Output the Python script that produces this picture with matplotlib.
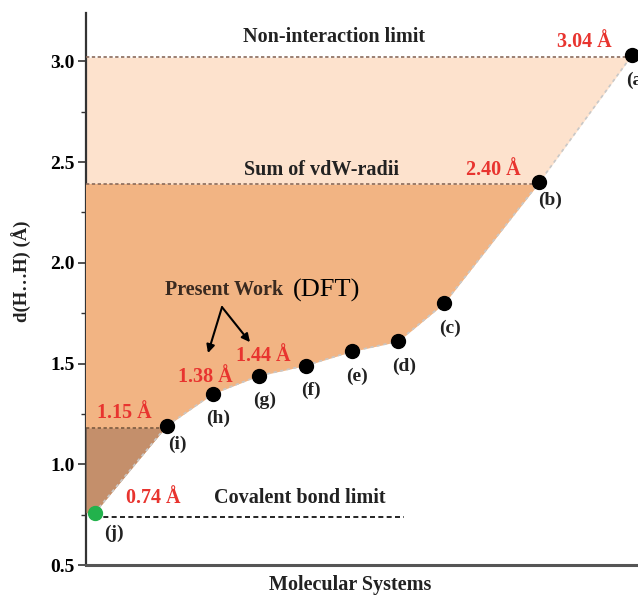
import matplotlib
matplotlib.use("Agg")
import matplotlib.pyplot as plt
from matplotlib.ticker import MultipleLocator

# ---- data ----
labels = ["(j)", "(i)", "(h)", "(g)", "(f)", "(e)", "(d)", "(c)", "(b)", "(a)"]
xpos = [0.0, 1.55, 2.55, 3.55, 4.55, 5.55, 6.55, 7.55, 9.6, 11.6]
dist = [0.76, 1.19, 1.35, 1.44, 1.49, 1.56, 1.61, 1.80, 2.40, 3.03]
covalent = 0.74
lim_115 = 1.18
vdw = 2.39
nonint = 3.02
value_texts = ["0.74 Å", "1.15 Å", "1.38 Å", "1.44 Å", "2.40 Å", "3.04 Å"]
yticks = [0.5, 1.0, 1.5, 2.0, 2.5, 3.0]

plt.rcParams['font.family'] = ['Liberation Serif', 'DejaVu Serif']
plt.rcParams['font.weight'] = 'bold'

fig = plt.figure(figsize=(6.38, 5.95), dpi=100)
ax = fig.add_axes([86/638, 30/595, 1 - 86/638, (565 - 13)/595])
xl, xr = -0.19, 11.73
ax.set_xlim(xl, xr)
ax.set_ylim(0.5, 3.24)

light = "#fde2cd"
mid = "#f2b483"
brown = "#c48f6b"

# fill regions
fx = [xl] + xpos
fy = [dist[0]] + dist
ax.fill_between(fx, fy, nonint, color=light, lw=0, zorder=1)
ib = labels.index("(b)")
ax.fill_between(fx[:ib + 2], fy[:ib + 2], vdw, color=mid, lw=0, zorder=2)
ii = labels.index("(i)")
ax.fill_between(fx[:ii + 2], fy[:ii + 2], lim_115, color=brown, lw=0, zorder=3)
ax.fill_between(fx[:ii + 2], lim_115, vdw, color=mid, lw=0, zorder=3)

# edge dotted line
ax.plot(xpos, dist, ls=(0, (2, 2)), color="#c8c8c8", lw=1.2, zorder=4)

# horizontal limit lines
ax.plot([xl, xpos[-1]], [nonint, nonint], ls=(0, (2, 1.5)), color="#8a6a5a", lw=1.2, zorder=5)
ax.plot([xl, xpos[ib]], [vdw, vdw], ls=(0, (2, 1.5)), color="#8a6a5a", lw=1.2, zorder=5)
ax.plot([xl, xpos[ii]], [lim_115, lim_115], ls=(0, (2, 1.5)), color="#7a5a40", lw=1.2, zorder=5)
ax.plot([xpos[0], 6.68], [covalent, covalent], ls=(0, (3, 2)), color="black", lw=1.2, zorder=5)

# points
ax.plot(xpos[1:], dist[1:], 'o', color="black", ms=10, zorder=6, clip_on=False)
ax.plot(xpos[0], dist[0], 'o', color="#22b24c", ms=10, zorder=6, clip_on=False)
for x, y, lab in zip(xpos, dist, labels):
    off = (14, -15) if lab == "(j)" else ((8, -13) if lab in ("(i)", "(b)") else (4, -18))
    ax.annotate(lab, (x, y), xytext=off, textcoords='offset points', ha='center', va='center',
                fontsize=14, fontweight='bold', color="#222222", zorder=7)

red = "#e8342f"
dark = "#222222"
fs = 14.5
ax.text(5.165, 3.119, "Non-interaction limit", ha='center', va='center', fontsize=fs, fontweight='bold', color=dark)
ax.text(10.56, 3.094, value_texts[5], ha='center', va='center', fontsize=fs, fontweight='bold', color=red)
ax.text(4.906, 2.459, "Sum of vdW-radii", ha='center', va='center', fontsize=fs, fontweight='bold', color=dark)
ax.text(8.598, 2.459, value_texts[4], ha='center', va='center', fontsize=fs, fontweight='bold', color=red)
ax.text(0.63, 1.254, value_texts[1], ha='center', va='center', fontsize=fs, fontweight='bold', color=red)
ax.text(2.38, 1.433, value_texts[2], ha='center', va='center', fontsize=fs, fontweight='bold', color=red)
ax.text(3.632, 1.537, value_texts[3], ha='center', va='center', fontsize=fs, fontweight='bold', color=red)
ax.text(1.257, 0.832, value_texts[0], ha='center', va='center', fontsize=fs, fontweight='bold', color=red)
ax.text(4.43, 0.832, "Covalent bond limit", ha='center', va='center', fontsize=fs, fontweight='bold', color=dark)

ax.text(2.79, 1.864, "Present Work", ha='center', va='center', fontsize=fs, fontweight='bold', color="#3a2a20")
ax.text(5.014, 1.864, "(DFT)", ha='center', va='center', fontsize=19, fontweight='normal', color="black")
apex = (2.747, 1.78)
ax.annotate("", xy=(2.444, 1.552), xytext=apex,
            arrowprops=dict(arrowstyle="-|>", color="black", lw=1.5, mutation_scale=12,
                            shrinkA=0, shrinkB=0), zorder=8)
ax.annotate("", xy=(3.351, 1.606), xytext=apex,
            arrowprops=dict(arrowstyle="-|>", color="black", lw=1.5, mutation_scale=12,
                            shrinkA=0, shrinkB=0), zorder=8)

# axes styling
for s in ["top", "right"]:
    ax.spines[s].set_visible(False)
ax.spines["left"].set_color("#333333")
ax.spines["left"].set_linewidth(1.6)
ax.spines["bottom"].set_color("#555555")
ax.spines["bottom"].set_linewidth(2.2)
ax.set_xticks([])
ax.set_yticks(yticks)
ax.yaxis.set_minor_locator(MultipleLocator(0.25))
ax.tick_params(axis='y', which='major', length=6, width=1.2, color="#333333", labelsize=14, pad=2)
ax.tick_params(axis='y', which='minor', length=3.5, width=1.0, color="#333333")
for t in ax.get_yticklabels():
    t.set_fontweight('bold')
fig.text(22/638, 1 - 271/595, "d(H…H) (Å)", rotation=90, ha='center', va='center',
         fontsize=13.5, fontweight='bold', color=dark)
fig.text(350/638, 1 - 585/595, "Molecular Systems", ha='center', va='center',
         fontsize=fs, fontweight='bold', color=dark)

fig.savefig("out.png", dpi=100)
